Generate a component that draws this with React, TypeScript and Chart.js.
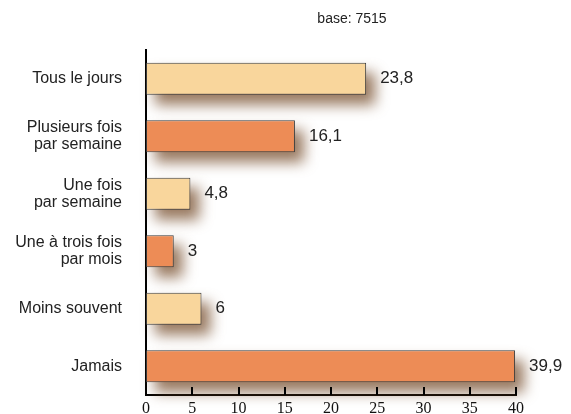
import React, { useEffect, useRef } from "react";
import { Chart, registerables } from "chart.js";

Chart.register(...registerables);

const categories: (string | string[])[] = [
  "Tous le jours",
  ["Plusieurs fois", "par semaine"],
  ["Une fois", "par semaine"],
  ["Une à trois fois", "par mois"],
  "Moins souvent",
  "Jamais",
];
const values = [23.8, 16.1, 4.8, 3, 6, 39.9];
const barColors = ["#F9D69C", "#ED8C56", "#F9D69C", "#ED8C56", "#F9D69C", "#ED8C56"];
const xTicks = [0, 5, 10, 15, 20, 25, 30, 35, 40];
const baseNote = "base: 7515";

const SANS = "'Liberation Sans', Arial, sans-serif";
const SERIF = "'Liberation Serif', 'Times New Roman', serif";

const shadowPlugin = {
  id: "barShadow",
  beforeDatasetsDraw(chart: any) {
    const ctx = chart.ctx;
    const meta = chart.getDatasetMeta(0);
    ctx.save();
    ctx.filter = "blur(7px)";
    ctx.fillStyle = "rgba(110, 65, 30, 0.7)";
    meta.data.forEach((bar: any) => {
      const left = Math.min(bar.base, bar.x);
      const w = Math.abs(bar.x - bar.base);
      const h = bar.height;
      ctx.fillRect(left + 9, bar.y - h / 2 + 10, w, h);
    });
    ctx.restore();
  },
  afterDatasetsDraw(chart: any) {
    const ctx = chart.ctx;
    const meta = chart.getDatasetMeta(0);
    ctx.save();
    ctx.font = `17px ${SANS}`;
    ctx.fillStyle = "#222";
    ctx.textAlign = "left";
    ctx.textBaseline = "middle";
    meta.data.forEach((bar: any, i: number) => {
      const txt = String(values[i]).replace(".", ",");
      ctx.fillText(txt, bar.x + 14, bar.y);
    });
    ctx.restore();
  },
  afterDraw(chart: any) {
    const ctx = chart.ctx;
    const xs = chart.scales.x;
    const area = chart.chartArea;
    ctx.save();
    ctx.strokeStyle = "#000";
    ctx.lineWidth = 2;
    xTicks.forEach((t) => {
      if (t === 0) return;
      const px = Math.round(xs.getPixelForValue(t));
      ctx.beginPath();
      ctx.moveTo(px, area.bottom);
      ctx.lineTo(px, area.bottom - 8);
      ctx.stroke();
    });
    ctx.font = `14px ${SANS}`;
    ctx.fillStyle = "#222";
    ctx.textAlign = "center";
    ctx.textBaseline = "middle";
    ctx.fillText(baseNote, area.left + 206, 19);
    ctx.restore();
  },
};

const whiteBg = {
  id: "whiteBg",
  beforeDraw(chart: any) {
    const ctx = chart.ctx;
    ctx.save();
    ctx.fillStyle = "#fff";
    ctx.fillRect(0, 0, chart.width, chart.height);
    ctx.restore();
  },
};

export default function App() {
  const ref = useRef<HTMLCanvasElement>(null);
  useEffect(() => {
    if (!ref.current) return;
    const chart = new Chart(ref.current, {
      type: "bar",
      data: {
        labels: categories as any,
        datasets: [
          {
            data: values,
            backgroundColor: barColors,
            borderColor: "#3a3a3a",
            borderWidth: 1,
            borderSkipped: false,
            categoryPercentage: 1,
            barPercentage: 0.56,
          },
        ],
      },
      options: {
        indexAxis: "y",
        animation: false,
        responsive: true,
        maintainAspectRatio: false,
        layout: { padding: { top: 50, right: 55, left: 0, bottom: 0 } },
        plugins: {
          legend: { display: false },
          tooltip: { enabled: false },
          title: { display: false },
        },
        scales: {
          x: {
            min: 0,
            max: 40,
            z: 1,
            afterFit: (s: any) => {
              s.height = 19;
              s.paddingLeft = 0;
              s.paddingRight = 0;
            },
            afterBuildTicks: (s: any) => {
              s.ticks = xTicks.map((v) => ({ value: v }));
            },
            grid: { display: false, drawTicks: false },
            border: { display: true, color: "#000", width: 2 },
            ticks: {
              color: "#111",
              padding: 4,
              font: { family: SERIF, size: 16 },
            },
          },
          y: {
            z: 1,
            offset: true,
            afterFit: (s: any) => {
              s.width = 146;
              s.paddingTop = 0;
              s.paddingBottom = 0;
            },
            grid: { display: false, drawTicks: false },
            border: { display: true, color: "#000", width: 2 },
            ticks: {
              color: "#222",
              padding: 24,
              font: { family: SANS, size: 16, lineHeight: 1.05 },
            },
          },
        },
      },
      plugins: [whiteBg, shadowPlugin],
    });
    return () => chart.destroy();
  }, []);
  return (
    <div style={{ position: "absolute", left: 0, top: 0, width: 571, height: 414 }}>
      <canvas ref={ref} />
    </div>
  );
}
